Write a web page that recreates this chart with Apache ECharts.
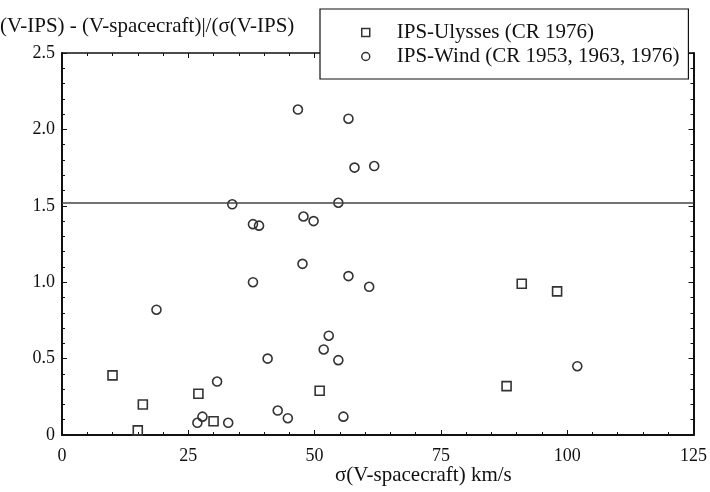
<!DOCTYPE html>
<html>
<head>
<meta charset="utf-8">
<title>IPS vs spacecraft</title>
<script src="https://cdn.jsdelivr.net/npm/echarts@6/dist/echarts.min.js"></script>
<style>
    html, body { margin: 0; padding: 0; background: #fff; }
    #main { width: 710px; height: 492px; }
</style>
</head>
<body>
<div id="main"></div>
<script>
'use strict';

// IPS-Ulysses (CR 1976)
var ulyssesX = [10, 16, 15, 27, 30, 51, 88, 91, 98];
var ulyssesY = [0.39, 0.20, 0.03, 0.27, 0.09, 0.29, 0.32, 0.99, 0.94];

// IPS-Wind (CR 1953, 1963, 1976)
var windX = [46.7, 56.7, 57.9, 61.8, 33.7, 54.7, 37.8, 39.0, 47.8, 49.8,
             47.6, 37.8, 56.7, 60.8, 18.7, 52.8, 51.8, 54.7, 40.7, 30.7,
             102, 42.7, 44.7, 55.7, 27.8, 26.8, 32.9];
var windY = [2.13, 2.07, 1.75, 1.76, 1.51, 1.52, 1.38, 1.37, 1.43, 1.40,
             1.12, 1.00, 1.04, 0.97, 0.82, 0.65, 0.56, 0.49, 0.50, 0.35,
             0.45, 0.16, 0.11, 0.12, 0.12, 0.08, 0.08];

var seriesNames = ['IPS-Ulysses (CR 1976)', 'IPS-Wind (CR 1953, 1963, 1976)'];
var refLevel = 1.52;

(function() {
    var myChart = echarts.init(document.getElementById('main'));

    function zip(xs, ys) {
        return xs.map(function(x, i) { return [x, ys[i]]; });
    }

    var font = '"Liberation Serif", "DejaVu Serif", serif';
    var ink = '#111';

    // 上下左右四条轴都画刻度，刻度朝内
    function axisBase(show) {
        return {
            axisLine: { onZero: false, lineStyle: { color: ink, width: 2 } },
            axisTick: { show: true, inside: true, length: 5, lineStyle: { color: ink } },
            minorTick: { show: true, splitNumber: 5, length: 3, lineStyle: { color: ink } },
            splitLine: { show: false },
            axisLabel: { show: show, color: ink, fontFamily: font, fontSize: 18 }
        };
    }

    var xBottom = Object.assign(axisBase(true), {
        type: 'value', min: 0, max: 125, interval: 25, position: 'bottom'
    });
    xBottom.axisLabel.margin = 12;
    var xTop = Object.assign(axisBase(false), {
        type: 'value', min: 0, max: 125, interval: 25, position: 'top'
    });
    xTop.axisLine.lineStyle.width = 1.5;
    var yLeft = Object.assign(axisBase(true), {
        type: 'value', min: 0, max: 2.5, interval: 0.5, position: 'left'
    });
    yLeft.axisLabel.margin = 7;
    yLeft.axisLabel.formatter = function(v) { return v === 0 ? '0' : v.toFixed(1); };
    var yRight = Object.assign(axisBase(false), {
        type: 'value', min: 0, max: 2.5, interval: 0.5, position: 'right'
    });

    var option = {
        animation: false,
        backgroundColor: '#fff',
        textStyle: { fontFamily: font, color: ink },
        grid: { left: 62, right: 13, top: 53, bottom: 57 },
        xAxis: [xBottom, xTop],
        yAxis: [yLeft, yRight],
        legend: {
            orient: 'vertical',
            left: 320,
            top: 9,
            padding: [13, 9, 12, 41],
            itemGap: 3,
            itemWidth: 8,
            itemHeight: 8,
            backgroundColor: '#fff',
            borderColor: ink,
            borderWidth: 1.2,
            z: 20,
            textStyle: { fontFamily: font, fontSize: 21, color: ink, padding: [0, 0, 0, 22] },
            data: [
                { name: seriesNames[0], icon: 'rect',
                  itemStyle: { color: '#fff', borderColor: '#333', borderWidth: 1.5 } },
                { name: seriesNames[1], icon: 'circle',
                  itemStyle: { color: '#fff', borderColor: '#333', borderWidth: 1.5 } }
            ]
        },
        graphic: [
            { type: 'text', left: 0, top: 16,
              style: { text: '(V-IPS) - (V-spacecraft)|/(σ(V-IPS)', font: '21px ' + font, fill: ink } },
            { type: 'text', left: 335, top: 465,
              style: { text: 'σ(V-spacecraft) km/s', font: '21px ' + font, fill: ink } }
        ],
        series: [
            {
                name: seriesNames[0],
                type: 'scatter',
                symbol: 'rect',
                symbolSize: 9,
                itemStyle: { color: 'rgba(255,255,255,0)', borderColor: '#333', borderWidth: 1.6, opacity: 1 },
                data: zip(ulyssesX, ulyssesY),
                markLine: {
                    silent: true,
                    symbol: ['none', 'none'],
                    label: { show: false },
                    lineStyle: { color: '#444', width: 1.6, type: 'solid' },
                    data: [{ yAxis: refLevel }]
                }
            },
            {
                name: seriesNames[1],
                type: 'scatter',
                symbol: 'circle',
                symbolSize: 9,
                itemStyle: { color: 'rgba(255,255,255,0)', borderColor: '#333', borderWidth: 1.6, opacity: 1 },
                data: zip(windX, windY)
            }
        ]
    };

    myChart.setOption(option);
})();
</script>
</body>
</html>
